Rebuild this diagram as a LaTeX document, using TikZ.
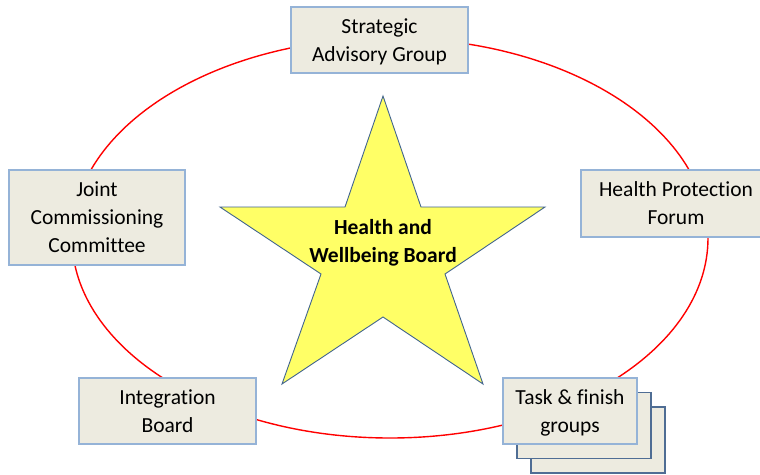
\documentclass[tikz,border=0pt]{standalone}
\usepackage{fontspec}
\setmainfont[Ligatures=CommonOff]{Carlito}
\usetikzlibrary{positioning}
\definecolor{RingRed}{HTML}{FF0000}
\definecolor{GroupFill}{HTML}{EDEBE0}
\definecolor{GroupEdge}{HTML}{95B3D7}
\definecolor{StackEdge}{HTML}{4F6D94}
\definecolor{StarFill}{HTML}{FFFF66}
\definecolor{StarEdge}{HTML}{41648F}

\begin{document}
\begin{tikzpicture}[
      x=1pt,y=-1pt,
      font=\fontsize{21.5}{28}\selectfont,
      group/.style={draw=GroupEdge,line width=1.2pt,fill=GroupFill,align=center,inner sep=0pt,text depth=0pt},
      stacked/.style={group,draw=StackEdge,minimum width=134pt,minimum height=66pt}
    ]
      \useasboundingbox (0,0) rectangle (760,474);

      % ring behind the groups
      \draw[RingRed,line width=1.4pt] (390,238) ellipse [x radius=318pt,y radius=200pt];

      % the board in the middle
      \draw[StarEdge,line width=0.9pt,fill=StarFill,line join=miter]
        (383,96) -- (421,207) -- (545,207) -- (445,274) -- (483,384)
        -- (383,317) -- (282,384) -- (321,274) -- (220,207) -- (345,207) -- cycle;
      \node[align=center,font=\fontsize{21.5}{28}\selectfont\bfseries] (hwb) at (383,243) {Health and\\Wellbeing Board};

      \node[group,minimum width=177pt,minimum height=66pt] (strategic) at (379.5,40) {Strategic\\Advisory Group};
      \node[group,minimum width=176pt,minimum height=95pt] (joint) at (97,217.5) {Joint\\Commissioning\\Committee};
      \node[group,minimum width=190pt,minimum height=67pt] (hpf) at (676,203.5) {Health Protection\\Forum};
      \node[group,minimum width=177pt,minimum height=66pt] (integration) at (167.5,411) {Integration\\Board};

      % task & finish groups as a stack of cards
      \node[stacked] (taskback) at (598,440) {};
      \node[stacked] (taskmid) at (584,425.5) {};
      \node[group,minimum width=134pt,minimum height=66pt] (task) at (570,411) {Task \& finish\\groups};
    \end{tikzpicture}
\end{document}
